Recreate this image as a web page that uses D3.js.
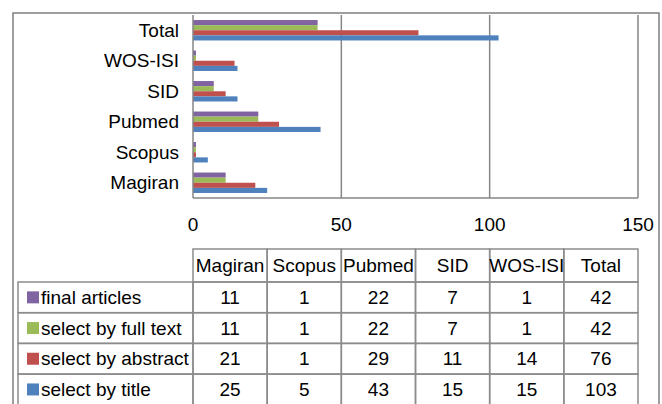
<!DOCTYPE html>
<html>
<head>
<meta charset="utf-8">
<script src="https://cdn.jsdelivr.net/npm/d3@7"></script>
<style>
  body { margin: 0; background: #fff; }
  text { font-family: "Liberation Sans", Arial, sans-serif; font-size: 19px; fill: #000; }
</style>
</head>
<body>
<script>
const databases = ["Magiran", "Scopus", "Pubmed", "SID", "WOS-ISI", "Total"];
const seriesNames = ["final articles", "select by full text", "select by abstract", "select by title"];
const finalArticles = [11, 1, 22, 7, 1, 42];
const selectByFullText = [11, 1, 22, 7, 1, 42];
const selectByAbstract = [21, 1, 29, 11, 14, 76];
const selectByTitle = [25, 5, 43, 15, 15, 103];
const xTicks = [0, 50, 100, 150];

const seriesValues = [finalArticles, selectByFullText, selectByAbstract, selectByTitle];
const seriesColors = ["#8064A2", "#9BBB59", "#C0504D", "#4F81BD"];

const width = 662, height = 404;
const plot = {left: 193, right: 638, top: 15, bottom: 198};

const svg = d3.select("body").append("svg")
    .attr("width", width)
    .attr("height", height);

// outer chart border
svg.append("rect")
  .attr("x", 13).attr("y", 13)
  .attr("width", 646).attr("height", 420)
  .attr("fill", "none")
  .attr("stroke", "#7f7f7f")
  .attr("stroke-width", 1.5);

const x = d3.scaleLinear().domain([0, 150]).range([plot.left, plot.right]);

const y = d3.scaleBand()
  .domain(databases)
  .range([plot.bottom, plot.top])
  .paddingInner(0.33)
  .paddingOuter(0.165);

const ySub = d3.scaleBand()
  .domain(seriesNames)
  .range([0, y.bandwidth()]);

// gridlines
svg.append("g")
  .selectAll("line")
  .data(xTicks.slice(1))
  .enter().append("line")
  .attr("x1", d => x(d)).attr("x2", d => x(d))
  .attr("y1", plot.top).attr("y2", plot.bottom)
  .attr("stroke", "#868686")
  .attr("stroke-width", 1.5);

// bars
const group = svg.append("g")
  .selectAll("g")
  .data(databases)
  .enter().append("g")
  .attr("transform", d => `translate(0,${y(d)})`);

group.selectAll("rect")
  .data((d, i) => seriesNames.map((s, k) => ({s, v: seriesValues[k][i], k})))
  .enter().append("rect")
  .attr("x", x(0))
  .attr("y", d => ySub(d.s))
  .attr("width", d => x(d.v) - x(0))
  .attr("height", ySub.bandwidth())
  .attr("fill", d => seriesColors[d.k]);

// axes lines
svg.append("line")
  .attr("x1", plot.left).attr("x2", plot.left)
  .attr("y1", plot.top).attr("y2", plot.bottom)
  .attr("stroke", "#868686").attr("stroke-width", 1.5);
svg.append("line")
  .attr("x1", plot.left).attr("x2", plot.right)
  .attr("y1", plot.bottom).attr("y2", plot.bottom)
  .attr("stroke", "#868686").attr("stroke-width", 1.5);

// category labels
svg.append("g")
  .selectAll("text")
  .data(databases)
  .enter().append("text")
  .attr("x", plot.left - 14)
  .attr("y", d => y(d) + y.bandwidth() / 2)
  .attr("dy", "0.35em")
  .attr("text-anchor", "end")
  .text(d => d);

// x tick labels
svg.append("g")
  .selectAll("text")
  .data(xTicks)
  .enter().append("text")
  .attr("x", d => x(d))
  .attr("y", 231)
  .attr("text-anchor", "middle")
  .text(d => d);

// data table
const col = d3.scaleBand().domain(databases).range([plot.left, plot.right]);
const tableLeft = 18;
const headerTop = 249, headerBottom = 282, rowH = 30.7;
const rowY = i => headerBottom + i * rowH;
const tableBottom = rowY(seriesNames.length);
const lineColor = "#8c8c8c";

const table = svg.append("g");

// header cells
table.selectAll("rect.head")
  .data(databases)
  .enter().append("rect")
  .attr("class", "head")
  .attr("x", d => col(d)).attr("y", headerTop)
  .attr("width", col.bandwidth()).attr("height", headerBottom - headerTop)
  .attr("fill", "none").attr("stroke", lineColor).attr("stroke-width", 1.5);

table.selectAll("text.head")
  .data(databases)
  .enter().append("text")
  .attr("class", "head")
  .attr("x", d => col(d) + col.bandwidth() / 2)
  .attr("y", (headerTop + headerBottom) / 2)
  .attr("dy", "0.35em")
  .attr("text-anchor", "middle")
  .text(d => d);

const rows = table.selectAll("g.row")
  .data(seriesNames)
  .enter().append("g")
  .attr("class", "row")
  .attr("transform", (d, i) => `translate(0,${rowY(i)})`);

rows.append("rect")
  .attr("x", tableLeft).attr("y", 0)
  .attr("width", plot.left - tableLeft).attr("height", rowH)
  .attr("fill", "none").attr("stroke", lineColor).attr("stroke-width", 1.5);

rows.append("rect")
  .attr("x", 27).attr("y", rowH / 2 - 6)
  .attr("width", 12).attr("height", 12)
  .attr("fill", (d, i) => seriesColors[i]);

rows.append("text")
  .attr("x", 41)
  .attr("y", rowH / 2)
  .attr("dy", "0.35em")
  .text(d => d);

rows.each(function(s, k) {
  const r = d3.select(this);
  r.selectAll("rect.cell")
    .data(databases)
    .enter().append("rect")
    .attr("class", "cell")
    .attr("x", d => col(d)).attr("y", 0)
    .attr("width", col.bandwidth()).attr("height", rowH)
    .attr("fill", "none").attr("stroke", lineColor).attr("stroke-width", 1.5);
  r.selectAll("text.cell")
    .data(seriesValues[k])
    .enter().append("text")
    .attr("class", "cell")
    .attr("x", (d, i) => col(databases[i]) + col.bandwidth() / 2)
    .attr("y", rowH / 2)
    .attr("dy", "0.35em")
    .attr("text-anchor", "middle")
    .text(d => d);
});
</script>
</body>
</html>
